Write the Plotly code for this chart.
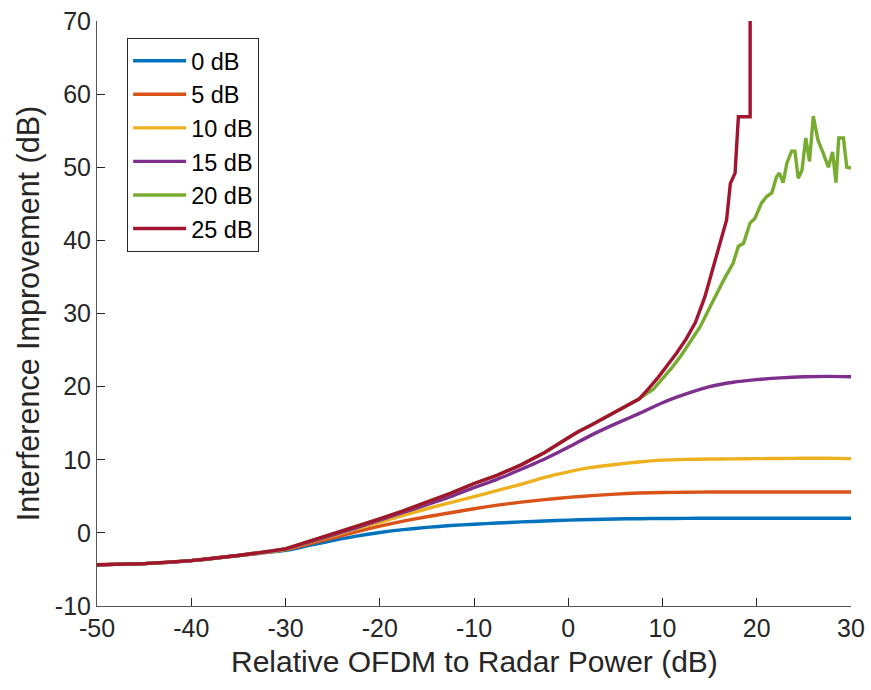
import plotly.graph_objects as go

# ---------------- data ----------------
x_common = [-50, -45, -40, -35, -30, -27.5, -25, -22.5, -20, -17.5, -15, -12.5, -10,
            -7.5, -5, -2.5, 0, 2.5, 5, 7.5, 10, 12.5, 15, 17.5, 20, 22.5, 25, 27.5, 30]
head = [-4.35, -4.2, -3.8, -3.1]

y_0db = head + [-2.4, -1.72, -1.05, -0.45, 0.05, 0.45, 0.75, 1.0, 1.18, 1.35, 1.5, 1.62,
                1.75, 1.83, 1.9, 1.94, 1.97, 1.98, 2.0, 2.0, 2.0, 2.0, 2.0, 2.0, 2.0]
y_5db = head + [-2.3, -1.5, -0.7, 0.15, 0.92, 1.6, 2.2, 2.75, 3.3, 3.8, 4.2, 4.55,
                4.85, 5.1, 5.3, 5.45, 5.52, 5.56, 5.58, 5.6, 5.6, 5.6, 5.6, 5.6, 5.6]
y_10db = head + [-2.25, -1.3, -0.4, 0.55, 1.45, 2.4, 3.3, 4.15, 4.95, 5.8, 6.65, 7.6,
                 8.35, 8.95, 9.35, 9.7, 9.95, 10.05, 10.1, 10.12, 10.15, 10.18, 10.2, 10.2, 10.15]
y_15db = head + [-2.2, -1.25, -0.3, 0.7, 1.75, 2.8, 3.85, 4.95, 6.2, 7.35, 8.7, 10.1,
                 11.7, 13.4, 14.9, 16.3, 17.8, 19.0, 20.0, 20.6, 20.95, 21.2, 21.35, 21.4, 21.35]

x_20db = [-50, -45, -40, -35, -30, -27.5, -25, -22.5, -20, -17.5, -15, -12.5, -10, -7.5,
          -5, -2.5, 0, 1, 2.5, 5, 7.5, 8.5, 9, 10, 11, 12, 13, 14, 15, 16, 16.5, 17.5, 18.05,
          18.6, 19.3, 19.8, 20.5, 21.05, 21.6, 22.1, 22.4, 22.8, 23.2, 23.7, 24.05, 24.4,
          24.8, 25.2, 25.6, 26.0, 26.5, 27.06, 27.6, 28.05, 28.4, 28.7, 29.2, 29.55, 30]
y_20db = [-4.35, -4.2, -3.8, -3.1, -2.2, -1.2, -0.15, 0.85, 1.9, 3.0, 4.2, 5.4, 6.75, 7.9,
          9.3, 11.0, 13.0, 13.8, 14.8, 16.5, 18.3, 19.2, 19.6, 21.1, 22.6, 24.3, 26.2, 28.2,
          30.8, 33.4, 34.6, 36.9, 39.2, 39.6, 42.4, 43.0, 45.1, 46.0, 46.5, 48.7, 49.2, 47.9,
          50.6, 52.2, 52.2, 48.5, 49.6, 54.0, 50.8, 57.0, 53.7, 51.9, 50.0, 52.1, 47.9, 54.0,
          54.0, 50.0, 49.9]

x_25db = [-50, -45, -40, -35, -30, -27.5, -25, -22.5, -20, -17.5, -15, -12.5, -10, -7.5,
          -5, -2.5, 0, 1, 2.5, 5, 7.5, 8.5, 9.5, 10.5, 11.5, 12.5, 13.5, 14.5, 15.5, 16.2,
          16.8, 17.2, 17.7, 18.05, 19.3, 19.3]
y_25db = [-4.35, -4.2, -3.8, -3.1, -2.2, -1.2, -0.15, 0.85, 1.9, 3.0, 4.2, 5.4, 6.75, 7.9,
          9.3, 11.0, 13.0, 13.8, 14.8, 16.5, 18.3, 19.7, 21.2, 22.9, 24.6, 26.5, 28.8, 32.3,
          36.8, 40.3, 42.8, 47.8, 49.2, 56.9, 56.9, 100]

names = ["0 dB", "5 dB", "10 dB", "15 dB", "20 dB", "25 dB"]
colors = ["#0072BD", "#D95319", "#EDB120", "#7E2F8E", "#77AC30", "#A2142F"]

x_ticks = [-50, -40, -30, -20, -10, 0, 10, 20, 30]
y_ticks = [-10, 0, 10, 20, 30, 40, 50, 60, 70]

x_title = "Relative OFDM to Radar Power (dB)"
y_title = "Interference Improvement (dB)"

# ---------------- figure ----------------
fig = go.Figure()
series = [
    (x_common, y_0db, "spline"),
    (x_common, y_5db, "spline"),
    (x_common, y_10db, "spline"),
    (x_common, y_15db, "spline"),
    (x_20db, y_20db, "linear"),
    (x_25db, y_25db, "linear"),
]
for (xs, ys, shape), nm, col in zip(series, names, colors):
    line = dict(color=col, width=3.4, shape=shape)
    if shape == "spline":
        line["smoothing"] = 0.6
    fig.add_trace(go.Scatter(x=xs, y=ys, mode="lines", name=nm, line=line))

font_family = "Liberation Sans, Arial, Helvetica, sans-serif"
axis_common = dict(
    showline=True, linecolor="#555555", linewidth=1, mirror=False,
    ticks="inside", ticklen=8, tickcolor="#262626", tickwidth=1,
    showgrid=False, zeroline=False, automargin=False,
    tickfont=dict(size=25, color="#262626", family=font_family),
)

fig.update_layout(
    width=871, height=690,
    margin=dict(l=97, r=20, t=21, b=84),
    paper_bgcolor="white", plot_bgcolor="white",
    font=dict(family=font_family, color="#262626"),
    xaxis=dict(range=[-50, 30], tickvals=x_ticks, ticktext=[str(v) for v in x_ticks],
               **axis_common),
    yaxis=dict(range=[-10, 70], tickvals=y_ticks, ticktext=[str(v) for v in y_ticks],
               title=dict(text=y_title,
                          font=dict(size=30.5, color="#262626"), standoff=6),
               **axis_common),
    legend=dict(x=0.04, y=0.971, xanchor="left", yanchor="top",
                bgcolor="white", bordercolor="#262626", borderwidth=1,
                font=dict(size=23.5, color="black", family=font_family),
                tracegroupgap=0, itemwidth=53),
    showlegend=True,
)

# x-axis title as an annotation for precise vertical placement
fig.add_annotation(text=x_title, xref="paper", yref="paper", x=0.5, y=-0.095,
                   xanchor="center", yanchor="middle", showarrow=False,
                   font=dict(size=30, color="#262626", family=font_family))

fig.write_html("out.html")
